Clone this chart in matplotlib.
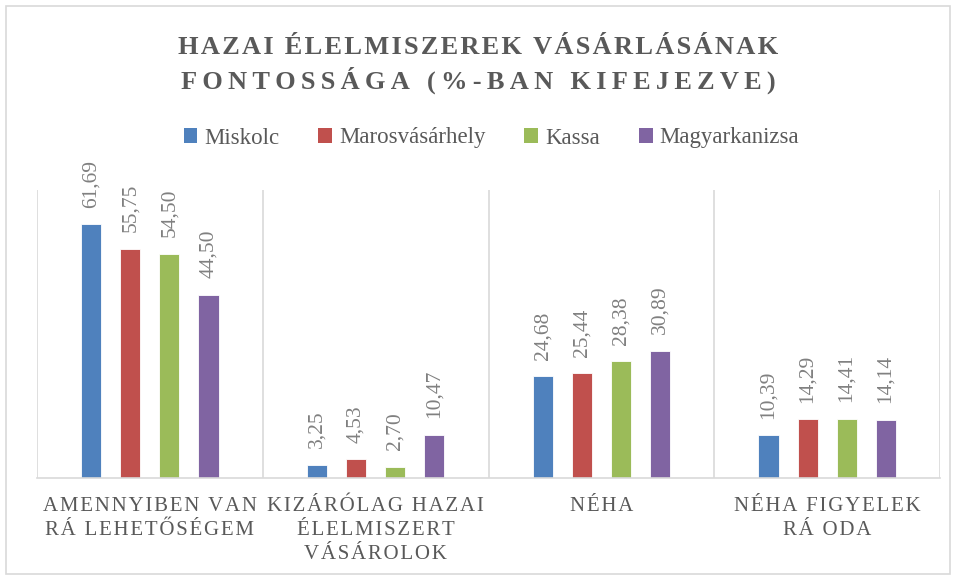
import matplotlib.pyplot as plt
import numpy as np
from matplotlib.patches import Patch, Rectangle

# category and series data
categories = ["AMENNYIBEN VAN\nRÁ LEHETŐSÉGEM",
              "KIZÁRÓLAG HAZAI\nÉLELMISZERT\nVÁSÁROLOK",
              "NÉHA",
              "NÉHA FIGYELEK\nRÁ ODA"]
cities = ["Miskolc", "Marosvásárhely", "Kassa", "Magyarkanizsa"]
miskolc = [61.69, 3.25, 24.68, 10.39]
marosvasarhely = [55.75, 4.53, 25.44, 14.29]
kassa = [54.50, 2.70, 28.38, 14.41]
magyarkanizsa = [44.50, 10.47, 30.89, 14.14]

series = [miskolc, marosvasarhely, kassa, magyarkanizsa]
colors = ["#4f81bd", "#c0504d", "#9bbb59", "#8064a2"]

plt.rcParams['font.family'] = ['Liberation Serif', 'DejaVu Serif']


def spaced(s, gap="\u200a"):
    # widen the letter spacing line by line
    return "\n".join(gap.join(line) for line in s.split("\n"))


fig = plt.figure(figsize=(9.56, 5.78), dpi=100)
fig.patches.append(Rectangle((6 / 956, 4 / 578), 944 / 956, 568 / 578,
                             transform=fig.transFigure, fill=False,
                             edgecolor="#d9d9d9", linewidth=1.2))

ax = fig.add_axes([37 / 956, 100 / 578, 903 / 956, 288 / 578])

x = np.arange(len(categories))
width = 0.089
step = 0.173
for i, (vals, col) in enumerate(zip(series, colors)):
    pos = x + (i - 1.5) * step
    bars = ax.bar(pos, vals, width, color=col, edgecolor="white", linewidth=0.6, label=cities[i])
    for b, v in zip(bars, vals):
        ax.annotate(f"{v:.2f}".replace(".", ","),
                    (b.get_x() + b.get_width() / 2, v),
                    xytext=(0, 12), textcoords="offset points",
                    rotation=90, ha="center", va="bottom",
                    fontsize=15.5, color="#808080")

ax.set_xlim(-0.5, len(categories) - 0.5)
ax.set_ylim(0, 70)
ax.set_yticks([])
for s in ["top", "left", "right"]:
    ax.spines[s].set_visible(False)
ax.spines["bottom"].set_color("#d9d9d9")
ax.spines["bottom"].set_linewidth(1.2)
for b in np.arange(-0.5, len(categories), 1.0):
    ax.axvline(b, color="#d9d9d9", linewidth=1.2)

ax.set_xticks(x)
ax.set_xticklabels([spaced(c) for c in categories], fontsize=15,
                   color="#595959", linespacing=1.35)
ax.tick_params(axis="x", length=0, pad=14)

fig.text(0.5, 1 - 47 / 578, spaced("HAZAI ÉLELMISZEREK VÁSÁRLÁSÁNAK"),
         ha="center", va="center", fontsize=19, fontweight="bold", color="#595959")
fig.text(0.5, 1 - 80 / 578, spaced("FONTOSSÁGA (%-BAN KIFEJEZVE)", "\u2009"),
         ha="center", va="center", fontsize=19, fontweight="bold", color="#595959")

handles = [Patch(facecolor=c, label=n) for c, n in zip(colors, cities)]
fig.legend(handles=handles, loc="center", bbox_to_anchor=(0.514, 1 - 138 / 578),
           ncol=4, frameon=False, fontsize=16.5, labelcolor="#595959",
           handlelength=0.6, handleheight=0.6, handletextpad=0.3, columnspacing=1.7)

fig.savefig("out.png", dpi=100)
